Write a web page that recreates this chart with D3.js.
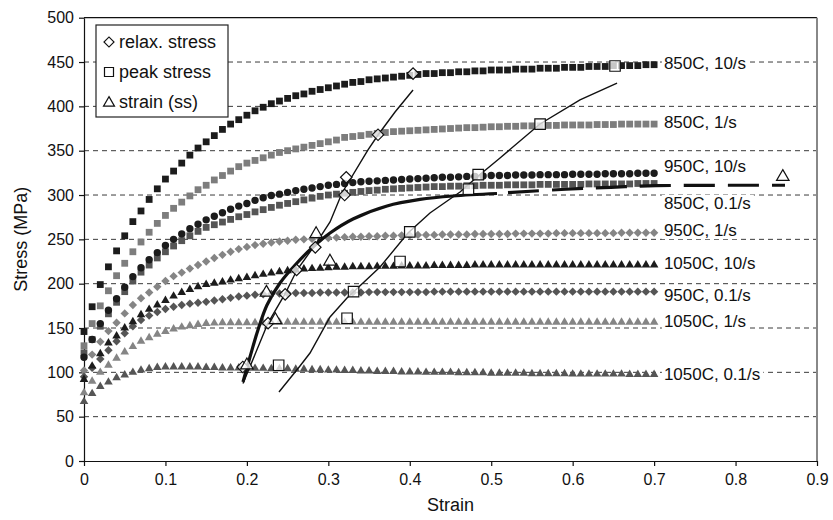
<!DOCTYPE html>
<html><head><meta charset="utf-8">
<script src="https://cdn.jsdelivr.net/npm/d3@7/dist/d3.min.js"></script>
<style>body{margin:0;background:#fff}</style>
</head><body><svg id="c" width="833" height="520"></svg>
<script>
// ---------- DATA ----------
const strainStep = 0.01; // measured points every 0.01 strain, from 0 to 0.70
const s850_10 = [146,174,199,219,237,254,270,282,295,307,
 318,327,336,345,353,360,367,374,380,385,
 390,395,399,403,406,409,412,414,417,419,
 421,423,425,427,428,430,431,432,433,434,
 435,436,437,437,438,438,439,439,440,440,
 441,441,441,442,442,442,443,443,443,444,
 444,444,445,445,445,446,446,446,446,447,
 447];
const s850_1 = [130,155,175,192,209,223,236,247,258,268,
 277,285,292,299,306,311,317,322,327,332,
 336,339,342,345,348,350,352,354,356,358,
 360,362,365,366,367,368.5,369.5,370.5,371.5,372,
 372.5,373,373.5,374,374.5,375,375.5,376,376,376.5,
 377,377,377.5,377.5,378,378,378,378.5,378.5,379,
 379,379,379,379.5,379.5,379.5,380,380,380,380,
 380];
const s850_01 = [122,137,152,166,179,191,203,213,221,229,
 236,242.5,248.5,254,259,263.5,266.5,269.5,272.5,275.5,
 278,281,283.5,286,288.5,290.5,292.5,294.5,296.5,298.5,
 300,301,302,303,304,305,305.5,306.5,307,307.5,
 308,308.5,309,309.5,309.5,310,310,310.5,310.5,311,
 311,311,311.5,311.5,311.5,311.5,312,312,312,312,
 312,312,312.5,312.5,312.5,312.5,312.5,312.5,313,313,
 313];
const s950_10 = [117,137,155,170,183,196,208,218,227,235,
 243,250,256,262,267,272,276,280,284,287.5,
 290.5,294,297,299.5,301,303,305,306.5,308,309.5,
 311,312,313,314,315,315.5,316,316.5,317,317.5,
 318,318.5,319,319.5,320,320,320.5,321,321,321.5,
 322,322,322,322.5,322.5,322.5,323,323,323,323,
 323.5,323.5,323.5,323.5,324,324,324,324,324.5,324.5,
 324.5];
const s950_1 = [102,120,134.5,146.5,156,166.5,176,183.5,190,196.5,
 203,208.5,212.5,217,221,225,229,232.5,236,239,
 241.5,243.5,245,246.5,247.5,248.5,249.5,250,250.5,251,
 251.5,252,252.5,253,253,253.5,253.5,254,254,254.5,
 254.5,255,255,255,255.5,255.5,255.5,255.5,256,256,
 256,256,256,256.5,256.5,256.5,256.5,256.5,257,257,
 257,257,257,257,257,257,257.5,257.5,257.5,257.5,
 257.5];
const s950_01 = [95,105,115,125,135,144,152,159,164,168,
 171.5,174,176,177.5,178.5,179.5,181,182.5,184,185.5,
 186.5,187.5,188,188.5,189,189,189.5,189.5,189.5,190,
 190,190,190,190,190,190.5,190.5,190.5,190.5,190.5,
 190.5,190.5,190.5,191,191,191,191,191,191,191,
 191,191,191,191,191,191,191,191,191,191,
 191,191,191,191,191,191,191,191,191,191,
 191];
const s1050_10 = [92,107,121,133,141,150,157,165,171,176,
 181,186,190,193.5,196.5,199,200.5,202,204,205.5,
 207,209,210.5,212,213.5,214.5,215.5,216.5,217,217.5,
 218,218.5,218.5,219,219,219,219.5,219.5,219.5,220,
 220,220,220,220.5,220.5,220.5,220.5,220.5,221,221,
 221,221,221,221,221,221,221,221,221,221,
 221,221,221,221,221,221,221,221,221,221,
 221];
const s1050_1 = [77,90,100,108,116,123,129,135,139,143,
 146,149,151,152.5,154,155,155.5,156,156,156,
 156,156,156,156.5,156.5,156.5,156.5,156.5,156.5,156.5,
 156.5,156.5,156.5,156.5,156.5,156.5,156.5,156.5,156.5,156.5,
 156.5,156.5,156.5,156.5,156.5,156.5,156.5,156.5,156.5,156.5,
 156.5,156.5,156.5,156.5,156.5,156.5,156.5,156.5,156.5,156.5,
 156.5,156.5,156.5,156.5,156.5,156.5,156.5,156.5,156.5,156.5,
 156.5];
const s1050_01 = [67,76,84,89,94,97,100,102.5,104,105.5,
 106,106,106,106,106,105.5,105.5,105,105,105,
 104.5,104.5,104.5,104,104,104,103.5,103.5,103,103,
 102.5,102.5,102,102,101.5,101.5,101,101,101,100.5,
 100.5,100.5,100,100,100,100,99.5,99.5,99.5,99.5,
 99,99,99,99,99,98.5,98.5,98.5,98.5,98.5,
 98,98,98,98,98,98,98,97.5,97.5,97.5,
 97.5];
const seriesLabels = ["850C, 10/s","850C, 1/s","850C, 0.1/s","950C, 10/s","950C, 1/s","950C, 0.1/s","1050C, 10/s","1050C, 1/s","1050C, 0.1/s"];

// hollow markers
const relaxStrain = [0.195,0.226,0.247,0.261,0.284,0.320,0.322,0.361,0.404];
const relaxStress = [106,155.5,188,215.5,241,300,320,368,437];
const peakStrain = [0.239,0.323,0.331,0.388,0.400,0.472,0.484,0.560,0.652];
const peakStress = [108,161,191,225,258.5,306.5,323,380,445.5];
const ssStrain = [0.200,0.224,0.235,0.285,0.302,0.858];
const ssStress = [108,190,159,256,225,320.5];

// fitted lines
const relaxLineStrain = [0.1952,0.2112,0.2259,0.2468,0.2615,0.2836,0.3021,0.3168,0.3487,0.3610,0.3819,0.4040];
const relaxLineStress = [87.4,122.9,155.6,188.4,215.4,243.6,269.6,302.3,350.8,367.7,393.6,418.5];
const peakLineStrain = [0.2394,0.2652,0.2775,0.3021,0.3229,0.3635,0.3978,0.4248,0.4617,0.4826,0.5108,0.5599,0.6090,0.6545];
const peakLineStress = [77.8,107.2,121.8,162.4,183.8,218.8,257.2,279.7,303.4,320.3,341.8,380.1,407.2,426.3];
const ssCurveStrain = [0.1952,0.2038,0.2136,0.2247,0.2407,0.2615,0.2812,0.3021,0.3303,0.3721,0.4126,0.4531,0.5071];
const ssCurveStress = [89.1,117.3,147.8,176,200.8,223.3,241.4,257.2,273,287.7,295,298.9,301.7];
const ssDashStrain = [0.5206,0.5918,0.6471,0.7024,0.8607];
const ssDashStress = [302.8,306.5,308.7,310.5,311];

const xTicks = [0,0.1,0.2,0.3,0.4,0.5,0.6,0.7,0.8,0.9];
const xTickLabels = ["0","0.1","0.2","0.3","0.4","0.5","0.6","0.7","0.8","0.9"];
const yTicks = [0,50,100,150,200,250,300,350,400,450,500];
const legendLabels = ["relax. stress","peak stress","strain (ss)"];

// ---------- STYLE / LAYOUT ----------
const FONT = "'Liberation Sans', Arial, Helvetica, sans-serif";
const BLACK = "#1c1c1c", LIGHT = "#7d7d7d", DARK = "#555555";
const seriesValues = [s850_10,s850_1,s850_01,s950_10,s950_1,s950_01,s1050_10,s1050_1,s1050_01];
const seriesStyle = [
  {shape:"square", color:BLACK}, {shape:"square", color:LIGHT}, {shape:"square", color:DARK},
  {shape:"circle", color:BLACK}, {shape:"diamond", color:"#858585"}, {shape:"diamond", color:DARK},
  {shape:"triangle", color:BLACK}, {shape:"triangle", color:"#858585"}, {shape:"triangle", color:DARK}
];
const labelAnchor = [448.6,382.7,291.3,332.7,260.5,187.2,223,157.9,98.1]; // label centre, in stress units
const labelStrain = 0.712;

const svg = d3.select("#c");
const x = d3.scaleLinear().domain([0,0.9]).range([84,817]);
const y = d3.scaleLinear().domain([0,500]).range([461,17.7]);

function symPath(shape, sz){
  if(shape==="square") return d3.symbol(d3.symbolSquare, sz*sz)();
  if(shape==="circle") return d3.symbol(d3.symbolCircle, Math.PI*sz*sz/4)();
  if(shape==="diamond") return d3.symbol(d3.symbolSquare, sz*sz/2)();
  if(shape==="triangle") return d3.symbol(d3.symbolTriangle, Math.sqrt(3)/4*sz*sz)();
}
function symRot(shape){ return shape==="diamond" ? 45 : 0; }

// gridlines
svg.append("g").selectAll("line").data(yTicks.filter(v=>v>0 && v<500)).join("line")
  .attr("x1",x(0)).attr("x2",x(0.9)).attr("y1",d=>y(d)).attr("y2",d=>y(d))
  .attr("stroke","#3a3a3a").attr("stroke-width",1).attr("stroke-dasharray","5,4");

// frame: top black, right gray
svg.append("line").attr("x1",x(0)).attr("x2",x(0.9)).attr("y1",y(500)).attr("y2",y(500)).attr("stroke","#111").attr("stroke-width",1.2);
svg.append("line").attr("x1",x(0.9)).attr("x2",x(0.9)).attr("y1",y(500)).attr("y2",y(0)).attr("stroke","#888").attr("stroke-width",2);

// axes
const gx = svg.append("g").attr("transform",`translate(0,${y(0)})`)
  .call(d3.axisBottom(x).tickValues(xTicks).tickFormat((d,i)=>xTickLabels[i]).tickSize(5).tickSizeOuter(0));
const gy = svg.append("g").attr("transform",`translate(${x(0)},0)`)
  .call(d3.axisLeft(y).tickValues(yTicks).tickFormat(d3.format("d")).tickSize(5).tickSizeOuter(0));
[gx,gy].forEach(g=>{
  g.selectAll("path,line").attr("stroke","#111").attr("stroke-width",1.2);
  g.selectAll("text").attr("font-family",FONT).attr("font-size",16).attr("fill","#111");
});
gx.selectAll("text").attr("dy","1.0em");
gy.selectAll("text").attr("dx","-2");

svg.append("text").attr("x",(x(0)+x(0.9))/2).attr("y",511).attr("text-anchor","middle")
  .attr("font-family",FONT).attr("font-size",18).attr("fill","#111").text("Strain");
svg.append("text").attr("transform",`translate(27,${y(250)}) rotate(-90)`).attr("text-anchor","middle")
  .attr("font-family",FONT).attr("font-size",18).attr("fill","#111").text("Stress (MPa)");

// data series markers
seriesValues.forEach((vals,si)=>{
  const st = seriesStyle[si];
  const sz = st.shape==="square"?6.8:st.shape==="circle"?7.4:st.shape==="diamond"?8.4:8.6;
  svg.append("g").selectAll("path").data(vals).join("path")
    .attr("d", symPath(st.shape, sz))
    .attr("transform",(d,i)=>`translate(${x(i*strainStep)},${y(d)}) rotate(${symRot(st.shape)})`)
    .attr("fill", st.color);
});

// fitted lines
const line = d3.line().x(d=>x(d[0])).y(d=>y(d[1]));
const zip = (a,b)=>a.map((v,i)=>[v,b[i]]);
svg.append("path").attr("d", line.curve(d3.curveLinear)(zip(relaxLineStrain,relaxLineStress)))
  .attr("fill","none").attr("stroke","#111").attr("stroke-width",1.4);
svg.append("path").attr("d", line.curve(d3.curveLinear)(zip(peakLineStrain,peakLineStress)))
  .attr("fill","none").attr("stroke","#111").attr("stroke-width",1.4);
svg.append("path").attr("d", line.curve(d3.curveCatmullRom)(zip(ssCurveStrain,ssCurveStress)))
  .attr("fill","none").attr("stroke","#111").attr("stroke-width",3.2);
svg.append("path").attr("d", line.curve(d3.curveCatmullRom)(zip(ssDashStrain,ssDashStress)))
  .attr("fill","none").attr("stroke","#111").attr("stroke-width",3.2).attr("stroke-dasharray","31,13");

// hollow markers
function hollow(xs, ys, shape, sz){
  svg.append("g").selectAll("path").data(xs).join("path")
    .attr("d", symPath(shape, sz))
    .attr("transform",(d,i)=>`translate(${x(d)},${y(ys[i])}) rotate(${symRot(shape)})`)
    .attr("fill","#fff").attr("fill-opacity",0.75).attr("stroke","#111").attr("stroke-width",1.2);
}
hollow(relaxStrain, relaxStress, "diamond", 11.5);
hollow(peakStrain, peakStress, "square", 10.5);
hollow(ssStrain, ssStress, "triangle", 12.5);

// right-hand labels with white background
seriesLabels.forEach((lab,i)=>{
  const g = svg.append("g");
  const t = g.append("text").attr("x",x(labelStrain)).attr("y",y(labelAnchor[i])).attr("dy","0.36em")
    .attr("font-family",FONT).attr("font-size",17).attr("fill","#111").text(lab);
  const bb = t.node().getBBox();
  g.insert("rect","text").attr("x",bb.x-2).attr("y",bb.y+1).attr("width",bb.width+5).attr("height",bb.height-2).attr("fill","#fff");
});

// legend
const lg = svg.append("g");
lg.append("rect").attr("x",96).attr("y",25).attr("width",132).attr("height",92)
  .attr("fill","#fff").attr("stroke","#222").attr("stroke-width",1.2);
const legShapes = ["diamond","square","triangle"];
const legSizes = [10,9,11];
legendLabels.forEach((lab,i)=>{
  const cy = 42 + i*30;
  lg.append("path").attr("d",symPath(legShapes[i],legSizes[i]))
    .attr("transform",`translate(109,${cy+ (i===2?1:0)}) rotate(${symRot(legShapes[i])})`)
    .attr("fill","none").attr("stroke","#111").attr("stroke-width",1.2);
  lg.append("text").attr("x",119).attr("y",cy+5.5).attr("font-family",FONT).attr("font-size",18)
    .attr("fill","#111").text(lab);
});
</script></body></html>
